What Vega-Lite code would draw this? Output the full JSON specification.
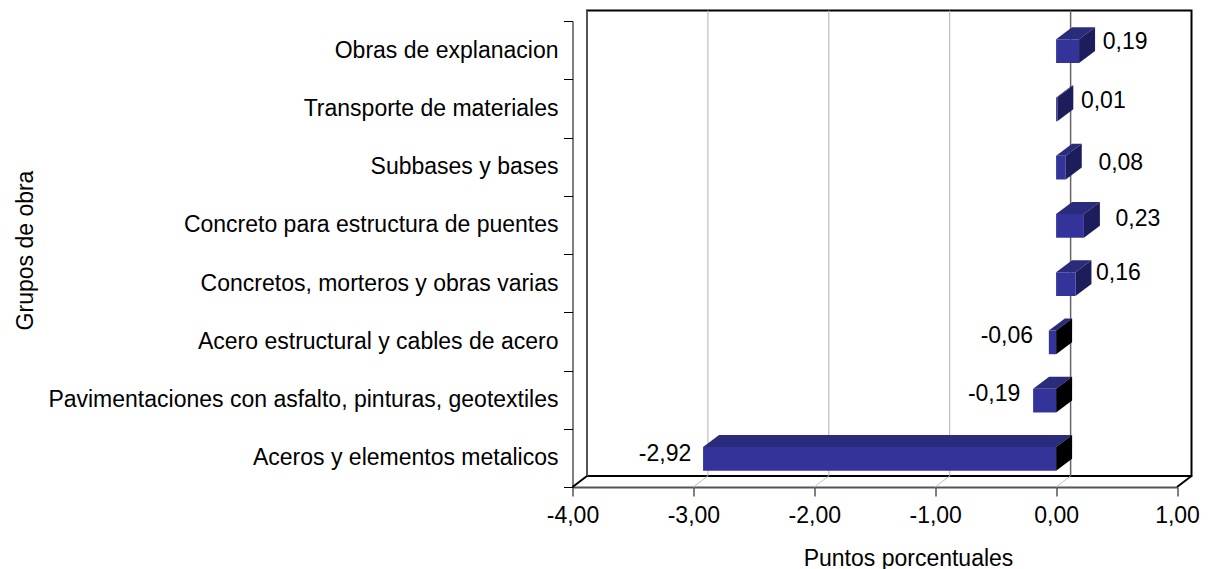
{"$schema":"https://vega.github.io/schema/vega-lite/v6.json","autosize":{"type":"none"},"width":604.5,"height":466,"padding":{"left":572.5,"top":21,"right":33,"bottom":82},"background":"white","config":{"view":{"stroke":null},"font":"Liberation Sans"},"data":{"values":[{"grupo":"Obras de explanacion","valor":0.19},{"grupo":"Transporte de materiales","valor":0.01},{"grupo":"Subbases y bases","valor":0.08},{"grupo":"Concreto para estructura de puentes","valor":0.23},{"grupo":"Concretos, morteros y obras varias","valor":0.16},{"grupo":"Acero estructural y cables de acero","valor":-0.06},{"grupo":"Pavimentaciones con asfalto, pinturas, geotextiles","valor":-0.19},{"grupo":"Aceros y elementos metalicos","valor":-2.92}]},"transform":[{"window":[{"op":"row_number","as":"n"}],"sort":[]},{"calculate":"datum.n-1","as":"i"},{"calculate":"replace(replace(format(datum.valor,'.2f'),'.',','),'−','-')","as":"etiqueta"},{"calculate":"datum.i+0.5","as":"yc"}],"resolve":{"scale":{"y":"independent"},"axis":{"y":"independent","x":"independent"}},"layer":[{"data":{"values":[{}]},"mark":{"type":"rect","fill":"white","stroke":"black","strokeWidth":2},"encoding":{"x":{"datum":-3.88,"type":"quantitative","scale":{"domain":[-4,1],"nice":false},"axis":{"title":"Puntos porcentuales","values":[-4,-3,-2,-1,0,1],"labelExpr":"replace(replace(format(datum.value,'.2f'),'.',','),'−','-')","grid":false,"tickSize":9,"tickColor":"black","domainColor":"#555555","domainWidth":2,"labelColor":"black","labelFontSize":23,"labelPadding":8,"labelFlush":false,"labelOverlap":false,"labelBound":false,"labelFont":"Liberation Sans","titleFont":"Liberation Sans","titleFontWeight":"normal","titleFontSize":23,"titleColor":"black","titleX":335.5,"titleY":78,"titleBaseline":"alphabetic"}},"x2":{"datum":1.12},"y":{"datum":-0.18,"type":"quantitative","scale":{"domain":[0,8],"reverse":true,"nice":false,"zero":false},"axis":null},"y2":{"datum":7.81}}},{"data":{"values":[{}]},"mark":{"type":"rule","color":"#555555","strokeWidth":2},"encoding":{"x":{"datum":-3.88,"type":"quantitative","scale":{"domain":[-4,1],"nice":false},"axis":null},"y":{"datum":-0.18,"type":"quantitative","scale":{"domain":[0,8],"reverse":true,"nice":false,"zero":false},"axis":null},"y2":{"datum":7.81}}},{"data":{"values":[{}]},"mark":{"type":"rule","color":"black","strokeWidth":2},"encoding":{"x":{"datum":-4,"type":"quantitative","scale":{"domain":[-4,1],"nice":false},"axis":null},"x2":{"datum":-3.88},"y":{"datum":8,"type":"quantitative","scale":{"domain":[0,8],"reverse":true,"nice":false,"zero":false},"axis":null},"y2":{"datum":7.81}}},{"data":{"values":[{}]},"mark":{"type":"rule","color":"black","strokeWidth":2},"encoding":{"x":{"datum":1,"type":"quantitative","scale":{"domain":[-4,1],"nice":false},"axis":null},"x2":{"datum":1.12},"y":{"datum":8,"type":"quantitative","scale":{"domain":[0,8],"reverse":true,"nice":false,"zero":false},"axis":null},"y2":{"datum":7.81}}},{"data":{"values":[{"marca":-3},{"marca":-2},{"marca":-1}]},"transform":[{"calculate":"datum.marca+0.12","as":"fondo"}],"mark":{"type":"rule","color":"#b0b0b0","strokeWidth":1},"encoding":{"x":{"field":"fondo","type":"quantitative","scale":{"domain":[-4,1],"nice":false},"axis":null},"y":{"datum":-0.18,"type":"quantitative","scale":{"domain":[0,8],"reverse":true,"nice":false,"zero":false},"axis":null},"y2":{"datum":7.81}}},{"data":{"values":[{"marca":-3},{"marca":-2},{"marca":-1},{"marca":0}]},"transform":[{"calculate":"datum.marca+0.12","as":"fondo"}],"mark":{"type":"rule","color":"#c0c0c0","strokeWidth":1},"encoding":{"x":{"field":"marca","type":"quantitative","scale":{"domain":[-4,1],"nice":false},"axis":null},"x2":{"field":"fondo"},"y":{"datum":8,"type":"quantitative","scale":{"domain":[0,8],"reverse":true,"nice":false,"zero":false},"axis":null},"y2":{"datum":7.81}}},{"data":{"values":[{"marca":0}]},"transform":[{"calculate":"datum.marca+0.12","as":"fondo"}],"mark":{"type":"rule","color":"#666666","strokeWidth":1.5},"encoding":{"x":{"field":"fondo","type":"quantitative","scale":{"domain":[-4,1],"nice":false},"axis":null},"y":{"datum":-0.18,"type":"quantitative","scale":{"domain":[0,8],"reverse":true,"nice":false,"zero":false},"axis":null},"y2":{"datum":7.81}}},{"transform":[{"calculate":"[0,1]","as":"d"},{"flatten":["d"]},{"calculate":"min(datum.valor,0)+datum.d*0.1323","as":"xa"},{"calculate":"max(datum.valor,0)+datum.d*0.1323","as":"xb"},{"calculate":"datum.i+0.314-datum.d*0.206","as":"yt"}],"mark":{"type":"area","orient":"horizontal","color":"#2b2b7b"},"encoding":{"detail":{"field":"grupo","type":"nominal"},"x":{"field":"xa","type":"quantitative","scale":{"domain":[-4,1],"nice":false},"axis":null},"x2":{"field":"xb"},"y":{"field":"yt","type":"quantitative","scale":{"domain":[0,8],"reverse":true,"nice":false,"zero":false},"axis":null}}},{"transform":[{"filter":"datum.valor>0"},{"calculate":"[0,1]","as":"d"},{"flatten":["d"]},{"calculate":"datum.valor+datum.d*0.1323","as":"xb"},{"calculate":"datum.i+0.314-datum.d*0.206","as":"yt"},{"calculate":"datum.yt+0.407","as":"yb"}],"mark":{"type":"area","orient":"vertical","color":"#1d1d5c"},"encoding":{"detail":{"field":"grupo","type":"nominal"},"x":{"field":"xb","type":"quantitative","scale":{"domain":[-4,1],"nice":false},"axis":null},"y":{"field":"yt","type":"quantitative","scale":{"domain":[0,8],"reverse":true,"nice":false,"zero":false},"axis":null},"y2":{"field":"yb"}}},{"transform":[{"filter":"datum.valor<0"},{"calculate":"[0,1]","as":"d"},{"flatten":["d"]},{"calculate":"datum.d*0.1323","as":"xb"},{"calculate":"datum.i+0.314-datum.d*0.206","as":"yt"},{"calculate":"datum.yt+0.407","as":"yb"}],"mark":{"type":"area","orient":"vertical","color":"#000000"},"encoding":{"detail":{"field":"grupo","type":"nominal"},"x":{"field":"xb","type":"quantitative","scale":{"domain":[-4,1],"nice":false},"axis":null},"y":{"field":"yt","type":"quantitative","scale":{"domain":[0,8],"reverse":true,"nice":false,"zero":false},"axis":null},"y2":{"field":"yb"}}},{"mark":{"type":"bar","color":"#333399","height":{"band":0.407},"yOffset":1},"encoding":{"x":{"field":"valor","type":"quantitative","stack":null,"scale":{"domain":[-4,1],"nice":false},"axis":null},"y":{"field":"grupo","type":"nominal","sort":null,"scale":{"padding":0},"title":"Grupos de obra","axis":{"tickBand":"extent","tickSize":9,"tickColor":"black","domainColor":"black","labelColor":"black","labelFontSize":23,"labelPadding":5.5,"labelLimit":600,"labelFont":"Liberation Sans","titleFont":"Liberation Sans","titleFontWeight":"normal","titleFontSize":23,"titleColor":"black","titleX":-535.5,"titleY":229}}}},{"transform":[{"filter":"datum.n===1"}],"mark":{"type":"text","fontSize":23,"color":"black","baseline":"middle","dx":46,"dy":-8},"encoding":{"text":{"field":"etiqueta"},"x":{"field":"valor","type":"quantitative","scale":{"domain":[-4,1],"nice":false},"axis":null},"y":{"field":"yc","type":"quantitative","scale":{"domain":[0,8],"reverse":true,"nice":false,"zero":false},"axis":null}}},{"transform":[{"filter":"datum.n===2"}],"mark":{"type":"text","fontSize":23,"color":"black","baseline":"middle","dx":46,"dy":-7},"encoding":{"text":{"field":"etiqueta"},"x":{"field":"valor","type":"quantitative","scale":{"domain":[-4,1],"nice":false},"axis":null},"y":{"field":"yc","type":"quantitative","scale":{"domain":[0,8],"reverse":true,"nice":false,"zero":false},"axis":null}}},{"transform":[{"filter":"datum.n===3"}],"mark":{"type":"text","fontSize":23,"color":"black","baseline":"middle","dx":55,"dy":-4},"encoding":{"text":{"field":"etiqueta"},"x":{"field":"valor","type":"quantitative","scale":{"domain":[-4,1],"nice":false},"axis":null},"y":{"field":"yc","type":"quantitative","scale":{"domain":[0,8],"reverse":true,"nice":false,"zero":false},"axis":null}}},{"transform":[{"filter":"datum.n===4"}],"mark":{"type":"text","fontSize":23,"color":"black","baseline":"middle","dx":54,"dy":-6},"encoding":{"text":{"field":"etiqueta"},"x":{"field":"valor","type":"quantitative","scale":{"domain":[-4,1],"nice":false},"axis":null},"y":{"field":"yc","type":"quantitative","scale":{"domain":[0,8],"reverse":true,"nice":false,"zero":false},"axis":null}}},{"transform":[{"filter":"datum.n===5"}],"mark":{"type":"text","fontSize":23,"color":"black","baseline":"middle","dx":43,"dy":-10},"encoding":{"text":{"field":"etiqueta"},"x":{"field":"valor","type":"quantitative","scale":{"domain":[-4,1],"nice":false},"axis":null},"y":{"field":"yc","type":"quantitative","scale":{"domain":[0,8],"reverse":true,"nice":false,"zero":false},"axis":null}}},{"transform":[{"filter":"datum.n===6"}],"mark":{"type":"text","fontSize":23,"color":"black","baseline":"middle","dx":-42,"dy":-5},"encoding":{"text":{"field":"etiqueta"},"x":{"field":"valor","type":"quantitative","scale":{"domain":[-4,1],"nice":false},"axis":null},"y":{"field":"yc","type":"quantitative","scale":{"domain":[0,8],"reverse":true,"nice":false,"zero":false},"axis":null}}},{"transform":[{"filter":"datum.n===7"}],"mark":{"type":"text","fontSize":23,"color":"black","baseline":"middle","dx":-39,"dy":-6},"encoding":{"text":{"field":"etiqueta"},"x":{"field":"valor","type":"quantitative","scale":{"domain":[-4,1],"nice":false},"axis":null},"y":{"field":"yc","type":"quantitative","scale":{"domain":[0,8],"reverse":true,"nice":false,"zero":false},"axis":null}}},{"transform":[{"filter":"datum.n===8"}],"mark":{"type":"text","fontSize":23,"color":"black","baseline":"middle","dx":-38,"dy":-4},"encoding":{"text":{"field":"etiqueta"},"x":{"field":"valor","type":"quantitative","scale":{"domain":[-4,1],"nice":false},"axis":null},"y":{"field":"yc","type":"quantitative","scale":{"domain":[0,8],"reverse":true,"nice":false,"zero":false},"axis":null}}}]}
